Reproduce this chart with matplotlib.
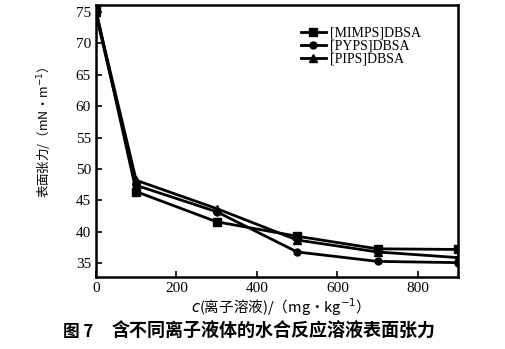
import matplotlib
matplotlib.use("Agg")
import matplotlib.pyplot as plt

x = [0, 100, 300, 500, 700, 900]
mimps = [75.3, 46.4, 41.6, 39.3, 37.3, 37.2]
pyps = [74.6, 47.4, 43.2, 36.8, 35.3, 35.1]
pips = [75.0, 48.2, 43.7, 38.7, 36.8, 35.9]
labels = ["[MIMPS]DBSA", "[PYPS]DBSA", "[PIPS]DBSA"]
xticks = [0, 200, 400, 600, 800]
yticks = [35, 40, 45, 50, 55, 60, 65, 70, 75]

serif = ["Liberation Serif", "Noto Sans CJK SC"]
cjk = ["Noto Sans CJK SC", "Liberation Serif"]
plt.rcParams["font.family"] = serif

fig = plt.figure(figsize=(5.05, 3.49), dpi=100)
ax = fig.add_axes([0.190, 0.206, 0.717, 0.780])

ax.plot(x, mimps, color="black", lw=2, marker="s", ms=5.5, label=labels[0])
ax.plot(x, pyps, color="black", lw=2, marker="o", ms=5, label=labels[1])
ax.plot(x, pips, color="black", lw=2, marker="^", ms=5.5, label=labels[2])

ax.set_xlim(0, 900)
ax.set_ylim(32.8, 76.1)
ax.set_xticks(xticks)
ax.set_yticks(yticks)
ax.tick_params(direction="in", labelsize=11, length=4, width=1.2)
for s in ax.spines.values():
    s.set_linewidth(1.8)

leg = ax.legend(loc="upper left", bbox_to_anchor=(0.535, 0.96), frameon=False,
                fontsize=10, handlelength=1.8, labelspacing=0.0, handletextpad=0.3,
                borderpad=0.3)

ax.set_xlabel("$c$(离子溶液)/（mg・kg$^{-1}$）", fontsize=10.5, family=cjk, labelpad=1)
ax.set_ylabel("表面张力/（mN・m$^{-1}$）", fontsize=9, family=cjk)
ax.yaxis.set_label_coords(-0.115, 0.53)

fig.text(0.125, 0.05, "图 7", ha="left", va="center",
         fontsize=12, fontweight="bold", family=cjk)
fig.text(0.222, 0.05, "含不同离子液体的水合反应溶液表面张力", ha="left", va="center",
         fontsize=13, fontweight="bold", family=cjk)

fig.savefig("out.png", dpi=100)
